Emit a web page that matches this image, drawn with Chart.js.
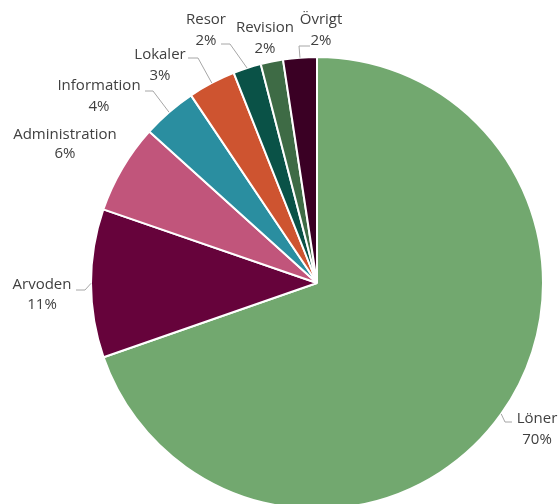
<!DOCTYPE html>
<html>
<head>
<meta charset="utf-8">
<script src="https://cdn.jsdelivr.net/npm/chart.js@4/dist/chart.umd.min.js"></script>
<style>
  html, body { margin: 0; padding: 0; background: #fff; overflow: hidden; }
  #wrap { position: absolute; left: 0; top: 0; width: 559px; height: 520px; }
</style>
</head>
<body>
<div id="wrap"><canvas id="c" width="559" height="520"></canvas></div>
<script>
// Data
const categories = ['Löner', 'Arvoden', 'Administration', 'Information', 'Lokaler', 'Resor', 'Revision', 'Övrigt'];
const values = [69.6, 10.6, 6.4, 3.9, 3.4, 2.0, 1.6, 2.4];
const colors = ['#72A86F', '#66033B', '#C1557B', '#2A8EA0', '#CE5430', '#0A5247', '#3E6B45', '#3A0024'];

// Label placement (offsets from pie centre) and leader lines
const labelPos = [
  { dx: 220, dy: 136, gap: 21, leader: [[188, 139], [195, 139]] },
  { dx: -275, dy: 2, gap: 20, leader: [[-232, 7], [-241, 7]] },
  { dx: -252, dy: -148, gap: 19, leader: null },
  { dx: -218, dy: -197, gap: 21, leader: [[-164, -192], [-172, -192]] },
  { dx: -157, dy: -228, gap: 21, leader: [[-119, -225], [-129, -225]] },
  { dx: -111, dy: -263, gap: 21, leader: [[-87, -239], [-96, -239]] },
  { dx: -52, dy: -255, gap: 21, leader: null },
  { dx: 4, dy: -263, gap: 21, leader: [[-18, -237], [-7, -237]] }
];

const labelPlugin = {
  id: 'pieLabels',
  afterDatasetsDraw(chart) {
    const ctx = chart.ctx;
    const meta = chart.getDatasetMeta(0);
    const data = chart.data.datasets[0].data;
    const total = data.reduce((a, b) => a + b, 0);
    ctx.save();
    meta.data.forEach((arc, i) => {
      const p = labelPos[i];
      const cx = arc.x, cy = arc.y;
      if (p.leader) {
        const mid = (arc.startAngle + arc.endAngle) / 2;
        const r = arc.outerRadius;
        ctx.beginPath();
        ctx.strokeStyle = '#A6A6A6';
        ctx.lineWidth = 1;
        ctx.moveTo(cx + Math.cos(mid) * r, cy + Math.sin(mid) * r);
        p.leader.forEach(pt => ctx.lineTo(cx + pt[0], cy + pt[1]));
        ctx.stroke();
      }
      ctx.fillStyle = '#404040';
      ctx.font = '15px "Open Sans", "Noto Sans", sans-serif';
      ctx.textAlign = 'center';
      ctx.textBaseline = 'middle';
      const pct = Math.round(data[i] / total * 100) + '%';
      ctx.fillText(chart.data.labels[i], cx + p.dx, cy + p.dy);
      ctx.fillText(pct, cx + p.dx, cy + p.dy + p.gap);
    });
    ctx.restore();
  }
};

new Chart(document.getElementById('c'), {
  type: 'pie',
  data: {
    labels: categories,
    datasets: [{
      data: values,
      backgroundColor: colors,
      borderColor: '#FFFFFF',
      borderWidth: 2
    }]
  },
  options: {
    responsive: false,
    animation: false,
    devicePixelRatio: 1,
    layout: { padding: { left: 90, right: 15, top: 56, bottom: 10 } },
    plugins: {
      legend: { display: false },
      tooltip: { enabled: false }
    }
  },
  plugins: [labelPlugin]
});
</script>
</body>
</html>
